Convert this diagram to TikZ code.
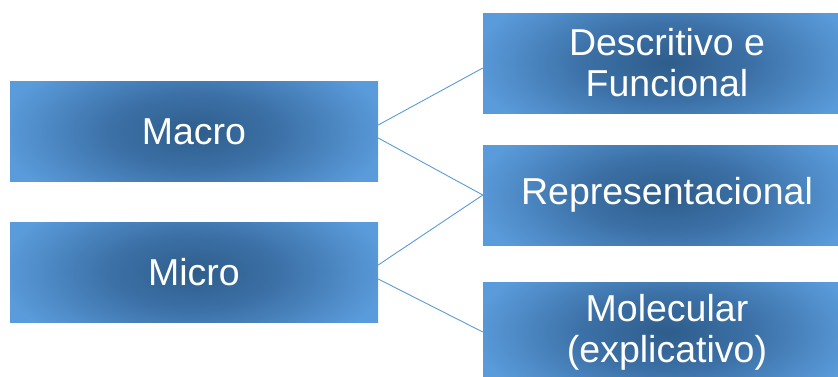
\documentclass[tikz,border=0pt]{standalone}
\usepackage{fontspec}
\setmainfont{Liberation Sans}
\definecolor{boxlight}{HTML}{5A9BDB}
\definecolor{boxmid}{HTML}{3C71A7}
\definecolor{boxdark}{HTML}{2E5D8B}
\definecolor{linkblue}{HTML}{5B9BD5}
% soft glow, dark in the middle and light towards the rim
\pgfdeclareradialshading{boxglow}{\pgfpoint{0bp}{0bp}}{%
  color(0bp)=(boxdark); color(11bp)=(boxmid); color(25bp)=(boxlight); color(50bp)=(boxlight)}
\tikzset{
  level/.style={rectangle, draw=none, inner sep=0pt,
    minimum width=368pt, minimum height=100pt,
    text=white, align=center,
    font=\fontsize{37.5}{41}\selectfont,
    fill=boxlight,
    path picture={
      \shade[shading=boxglow]
        ([shift={(-194pt,-88pt)}]path picture bounding box.center)
        rectangle ([shift={(194pt,88pt)}]path picture bounding box.center);
    }},
  link/.style={draw=linkblue, line width=0.9pt}
}
\begin{document}
\begin{tikzpicture}[x=1pt, y=-1pt]
  \useasboundingbox (0,0) rectangle (838,376);
  \clip (0,0) rectangle (838,376);

  % two scales on the left
  \node[level] (mac) at (194,131.5) {Macro};
  \node[level] (mic) at (194,272) {Micro};

  % three levels on the right
  \node[level] (des) at (667,63) {Descritivo e\\Funcional};
  \node[level] (rep) at (667,195) {Representacional};
  \node[level] (mol) at (667,332) {Molecular\\(explicativo)};

  % connectors
  \draw[link] ([yshift=6.5pt]mac.east) -- ([yshift=-5pt]des.west);
  \draw[link] ([yshift=-6.5pt]mac.east) -- (rep.west);
  \draw[link] ([yshift=7pt]mic.east) -- (rep.west);
  \draw[link] ([yshift=-7pt]mic.east) -- (mol.west);
\end{tikzpicture}
\end{document}
